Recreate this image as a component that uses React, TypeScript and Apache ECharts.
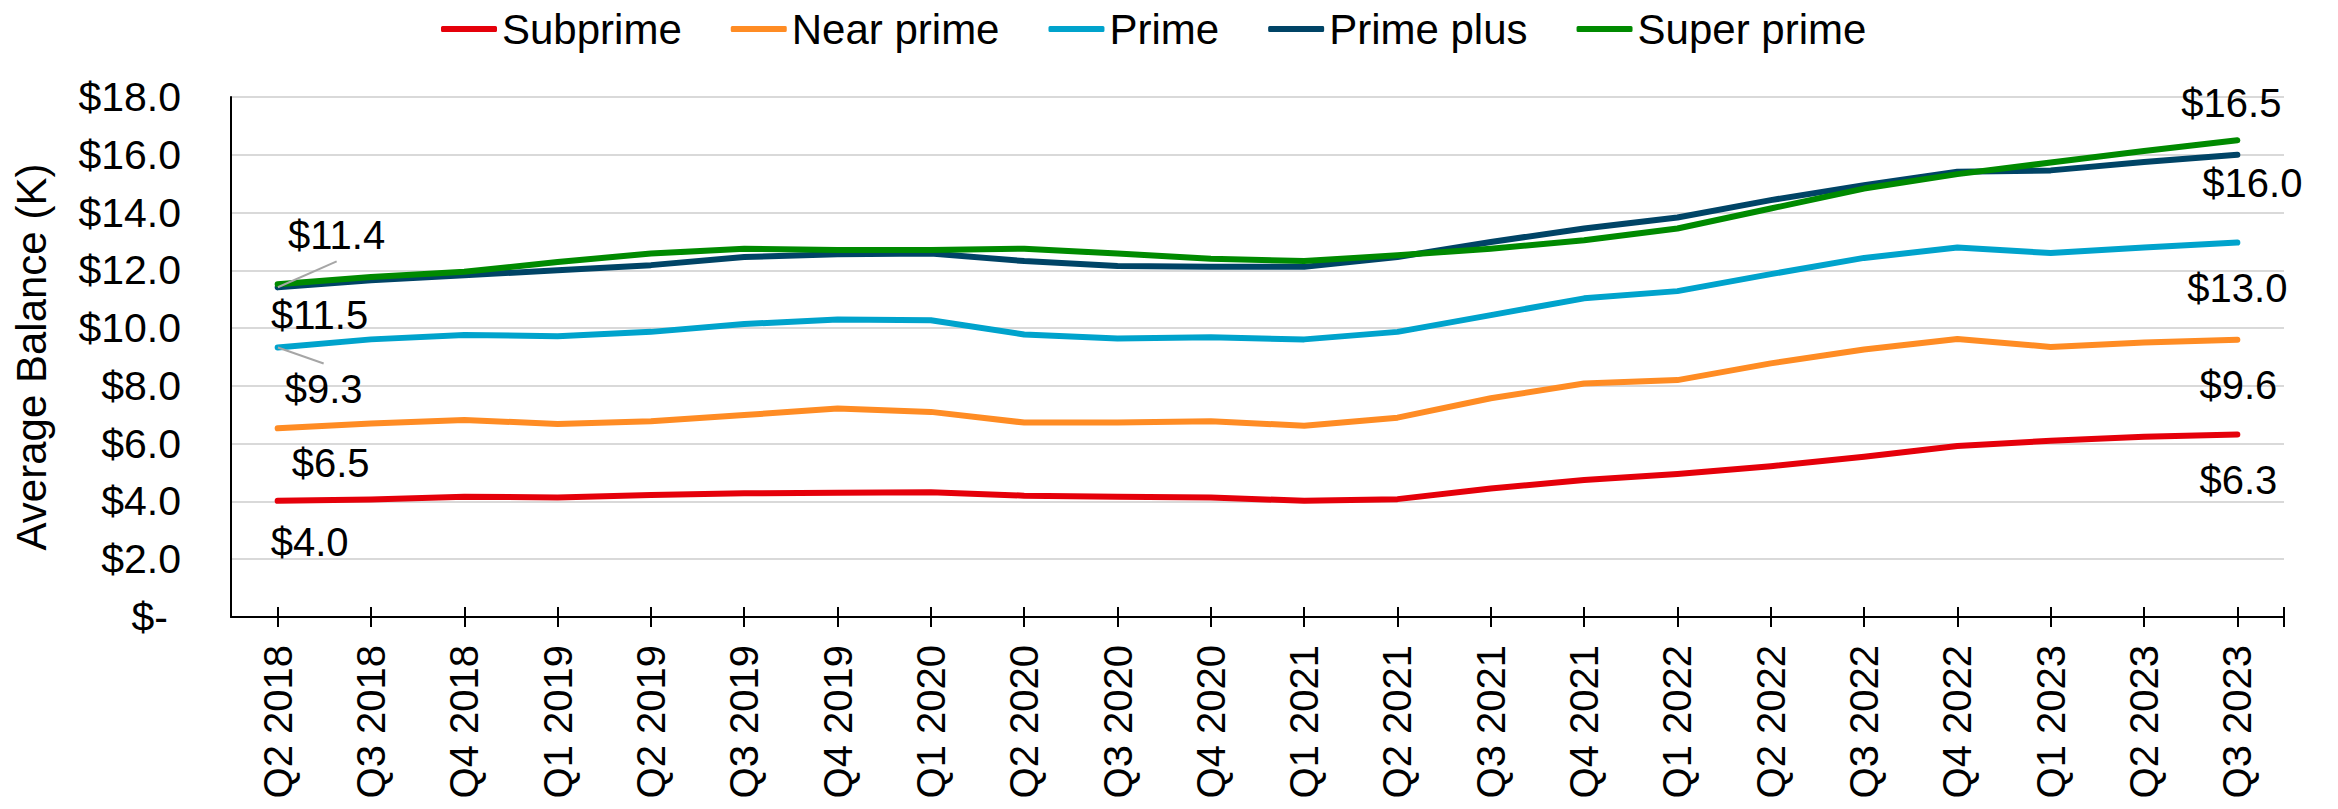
import React, { useEffect, useRef } from 'react';
import * as echarts from 'echarts';

// Quarterly average balance by credit tier, in $ thousands
const categories = [
  'Q2 2018', 'Q3 2018', 'Q4 2018', 'Q1 2019', 'Q2 2019', 'Q3 2019', 'Q4 2019',
  'Q1 2020', 'Q2 2020', 'Q3 2020', 'Q4 2020', 'Q1 2021', 'Q2 2021', 'Q3 2021',
  'Q4 2021', 'Q1 2022', 'Q2 2022', 'Q3 2022', 'Q4 2022', 'Q1 2023', 'Q2 2023', 'Q3 2023',
];

const subprime = [4.02, 4.07, 4.16, 4.14, 4.22, 4.28, 4.3, 4.32, 4.2, 4.16, 4.14, 4.02, 4.08, 4.45, 4.74, 4.95, 5.22, 5.55, 5.92, 6.1, 6.24, 6.32];
const nearPrime = [6.53, 6.7, 6.82, 6.68, 6.78, 6.99, 7.22, 7.1, 6.73, 6.73, 6.78, 6.62, 6.9, 7.57, 8.08, 8.2, 8.78, 9.26, 9.62, 9.35, 9.5, 9.6];
const prime = [9.33, 9.61, 9.76, 9.72, 9.87, 10.14, 10.3, 10.27, 9.78, 9.64, 9.68, 9.61, 9.87, 10.45, 11.03, 11.28, 11.87, 12.43, 12.79, 12.6, 12.79, 12.96];
const primePlus = [11.41, 11.66, 11.83, 12.0, 12.18, 12.46, 12.56, 12.58, 12.32, 12.15, 12.12, 12.12, 12.46, 12.98, 13.45, 13.83, 14.43, 14.95, 15.41, 15.46, 15.75, 16.0];
const superPrime = [11.52, 11.77, 11.95, 12.29, 12.58, 12.75, 12.7, 12.7, 12.75, 12.58, 12.4, 12.32, 12.52, 12.75, 13.04, 13.45, 14.14, 14.83, 15.33, 15.73, 16.13, 16.5];

const yTicks = { min: 0, max: 18, interval: 2 };

const FONT = "'Liberation Sans', Arial, Helvetica, sans-serif";

// Per-series styling: colour and how far the first / last value labels are shifted
// from their point; `leader` draws a thin guide line back to the point.
type LabelPlace = { shift: [number, number]; leader?: boolean };
const seriesStyle: { name: string; values: number[]; color: string; start: LabelPlace; end: LabelPlace }[] = [
  { name: 'Subprime', values: subprime, color: '#E5000A', start: { shift: [32, 41] }, end: { shift: [1, 46] } },
  { name: 'Near prime', values: nearPrime, color: '#FF8C24', start: { shift: [53, 35] }, end: { shift: [1, 45] } },
  { name: 'Prime', values: prime, color: '#00A3CC', start: { shift: [46, 42], leader: true }, end: { shift: [0, 45] } },
  { name: 'Prime plus', values: primePlus, color: '#004466', start: { shift: [59, -52], leader: true }, end: { shift: [15, 28] } },
  { name: 'Super prime', values: superPrime, color: '#008A00', start: { shift: [42, 31] }, end: { shift: [-6, -37] } },
];

const fmtMoney = (v: number) => '$' + v.toFixed(1);

function buildSeries() {
  return seriesStyle.map((s) => {
    const last = s.values.length - 1;
    const placeOf = (i: number) => (i === 0 ? s.start : s.end);
    const data = s.values.map((v, i) => {
      if (i === 0 || i === last) {
        const place = placeOf(i);
        const guideBox = place.leader
          ? // wide, invisible box so the guide line meets the label's top/bottom edge
            { padding: [6, 60, 6, 60], backgroundColor: 'rgba(255,255,255,0)' }
          : {};
        return {
          value: v,
          symbol: 'circle',
          symbolSize: 0.5,
          label: {
            show: true,
            position: 'inside',
            color: '#000',
            fontFamily: FONT,
            fontSize: 40,
            ...guideBox,
            formatter: (p: any) => fmtMoney(p.value),
          },
          labelLine: { show: !!place.leader },
        };
      }
      return { value: v, symbol: 'none' };
    });
    return {
      name: s.name,
      type: 'line',
      data,
      color: s.color,
      symbol: 'none',
      showSymbol: true,
      lineStyle: { color: s.color, width: 6, cap: 'round', join: 'round' },
      itemStyle: { color: s.color },
      label: { show: false },
      labelLine: { show: false, lineStyle: { color: '#A6A6A6', width: 2 } },
      labelLayout: (params: any) => {
        if (params.dataIndex !== 0 && params.dataIndex !== last) return {};
        const sh = placeOf(params.dataIndex).shift;
        return { dx: sh[0], dy: sh[1] };
      },
      emphasis: { disabled: true },
      z: 3,
    };
  });
}

function buildOption(): any {
  return {
    animation: false,
    backgroundColor: '#fff',
    textStyle: { fontFamily: FONT },
    legend: {
      left: 436,
      top: 3,
      icon: 'roundRect',
      itemWidth: 56,
      itemHeight: 6,
      itemGap: 49,
      textStyle: { fontFamily: FONT, fontSize: 42, color: '#000' },
      data: seriesStyle.map((s) => s.name),
    },
    grid: { left: 231, right: 54, top: 97, bottom: 192, containLabel: false },
    xAxis: [
      {
        type: 'category',
        data: categories,
        boundaryGap: true,
        axisLine: { show: true, lineStyle: { color: '#000', width: 2 } },
        axisTick: { show: false },
        axisLabel: { rotate: 90, margin: 28, fontSize: 40, color: '#000', fontFamily: FONT, interval: 0 },
        splitLine: { show: false },
      },
      {
        // crossing tick marks at each quarter
        type: 'category',
        data: categories,
        boundaryGap: true,
        position: 'bottom',
        offset: 10,
        axisLine: { show: false },
        axisTick: { show: true, inside: true, length: 20, alignWithLabel: true, interval: 0, lineStyle: { color: '#000', width: 2 } },
        axisLabel: { show: false },
        splitLine: { show: false },
      },
      {
        // closing tick at the right end of the axis
        type: 'value',
        min: 0,
        max: 22,
        interval: 22,
        position: 'bottom',
        offset: 10,
        axisLine: { show: false },
        axisTick: { show: true, inside: true, length: 20, customValues: [22], lineStyle: { color: '#000', width: 2 } },
        axisLabel: { show: false },
        splitLine: { show: false },
      },
    ],
    yAxis: {
      type: 'value',
      min: yTicks.min,
      max: yTicks.max,
      interval: yTicks.interval,
      name: 'Average Balance (K)',
      nameLocation: 'middle',
      nameGap: 179,
      nameTextStyle: { fontFamily: FONT, fontSize: 42, color: '#000' },
      axisLine: { show: true, lineStyle: { color: '#000', width: 2 } },
      axisTick: { show: false },
      splitLine: { show: true, lineStyle: { color: '#D9D9D9', width: 2 } },
      axisLabel: {
        margin: 50,
        fontSize: 41,
        color: '#000',
        fontFamily: FONT,
        formatter: (v: number) => (v === 0 ? '{z|$-}' : fmtMoney(v)),
        rich: { z: { fontSize: 41, fontFamily: FONT, color: '#000', padding: [0, 13, 0, 0] } },
      },
    },
    series: buildSeries(),
  };
}

export default function App() {
  const ref = useRef<HTMLDivElement>(null);
  useEffect(() => {
    document.body.style.margin = '0';
    const chart = echarts.init(ref.current!, null, { renderer: 'svg' });
    chart.setOption(buildOption());
    return () => chart.dispose();
  }, []);
  return <div ref={ref} style={{ width: 2338, height: 809 }} />;
}
